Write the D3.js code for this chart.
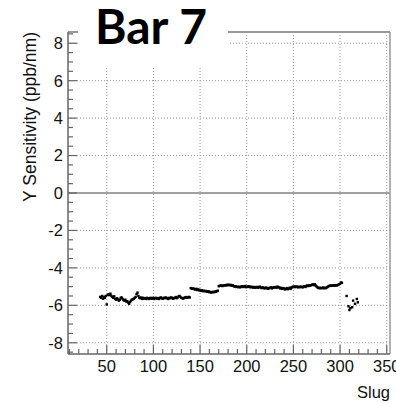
<!DOCTYPE html>
<html>
<head>
<meta charset="utf-8">
<script src="https://cdn.jsdelivr.net/npm/d3@7"></script>
<style>
  body { margin: 0; background: #fff; }
  svg { display: block; }
</style>
</head>
<body>
<div id="chart"></div>
<script>
// Data
const title = "Bar 7";
const xTitle = "Slug";
const yTitle = "Y Sensitivity (ppb/nm)";
const xTicks = [50, 100, 150, 200, 250, 300, 350];
const yTicks = [-8, -6, -4, -2, 0, 2, 4, 6, 8];

// slugs 43..139
const firstSlugA = 43;
const sensA = [
  -5.55,-5.6,-5.5,-5.65,-5.55,-5.6,-5.5,-5.95,-5.45,-5.4,
  -5.45,-5.38,-5.5,-5.55,-5.6,-5.52,-5.65,-5.7,-5.62,-5.68,
  -5.75,-5.7,-5.6,-5.58,-5.66,-5.72,-5.75,-5.7,-5.8,-5.78,
  -5.85,-5.92,-5.82,-5.75,-5.7,-5.68,-5.65,-5.6,-5.55,-5.4,
  -5.32,-5.5,-5.6,-5.62,-5.58,-5.66,-5.6,-5.64,-5.62,-5.66,
  -5.6,-5.63,-5.66,-5.62,-5.6,-5.65,-5.63,-5.6,-5.66,-5.62,
  -5.6,-5.64,-5.62,-5.66,-5.6,-5.58,-5.63,-5.65,-5.6,-5.62,
  -5.58,-5.6,-5.64,-5.66,-5.6,-5.62,-5.58,-5.6,-5.65,-5.62,
  -5.6,-5.56,-5.62,-5.58,-5.52,-5.5,-5.55,-5.6,-5.62,-5.64,
  -5.6,-5.58,-5.56,-5.6,-5.58,-5.55,-5.58
];

// slugs 140..302
const firstSlugB = 140;
const sensB = [
  -5.08,-5.1,-5.12,-5.1,-5.14,-5.16,-5.12,-5.18,-5.15,-5.2,
  -5.18,-5.22,-5.2,-5.24,-5.22,-5.25,-5.23,-5.26,-5.28,-5.25,
  -5.3,-5.28,-5.32,-5.3,-5.28,-5.3,-5.26,-5.28,-5.24,-5.22,
  -4.98,-4.95,-4.96,-4.94,-4.97,-4.95,-4.93,-4.92,-4.94,-4.9,
  -4.92,-4.9,-4.93,-4.91,-4.95,-4.93,-4.97,-5.0,-4.98,-5.02,
  -5.0,-5.03,-5.01,-5.04,-5.0,-4.98,-5.02,-5.0,-4.97,-5.03,
  -5.0,-5.02,-4.98,-5.01,-5.04,-5.0,-5.03,-5.05,-5.02,-5.06,
  -5.04,-5.02,-5.06,-5.03,-5.0,-5.05,-5.08,-5.04,-5.06,-5.1,
  -5.07,-5.05,-5.1,-5.12,-5.08,-5.06,-5.04,-5.1,-5.06,-5.03,
  -5.05,-5.02,-5.06,-5.0,-5.03,-5.05,-5.1,-5.07,-5.12,-5.08,
  -5.1,-5.15,-5.12,-5.08,-5.14,-5.1,-5.06,-5.12,-5.05,-5.02,
  -5.0,-5.03,-4.99,-5.02,-5.0,-5.04,-5.01,-5.03,-5.0,-5.02,
  -5.04,-5.0,-4.98,-5.02,-4.96,-4.94,-4.97,-4.93,-4.95,-4.92,
  -4.9,-4.88,-4.92,-4.87,-4.95,-5.0,-5.05,-5.08,-5.06,-5.09,
  -5.07,-5.08,-5.05,-5.09,-5.06,-5.08,-5.04,-5.0,-4.97,-4.95,
  -4.96,-4.94,-4.95,-4.93,-4.95,-4.92,-4.94,-4.93,-4.9,-4.88,
  -4.85,-4.78,-4.8
];

// the last few scattered slugs
const slugsC = [307, 309, 310, 311, 313, 314, 316, 318, 319];
const sensC = [-5.5, -6.05, -6.25, -6.15, -6.1, -5.75, -5.92, -5.66, -5.84];

const points = []
  .concat(sensA.map((v, i) => ({ slug: firstSlugA + i, v: v })))
  .concat(sensB.map((v, i) => ({ slug: firstSlugB + i, v: v })))
  .concat(sensC.map((v, i) => ({ slug: slugsC[i], v: v })));

const width = 396;
const height = 403;
const plotLeft = 68, plotRight = 390, plotTop = 32, plotBottom = 354;

const svg = d3.select("#chart").append("svg")
  .attr("width", width)
  .attr("height", height);

const x = d3.scaleLinear().domain([8.5, 353.5]).range([plotLeft, plotRight]);
const y = d3.scaleLinear().domain([-8.6, 8.6]).range([plotBottom, plotTop]);

// grid
svg.append("g").selectAll("line")
  .data(xTicks).enter().append("line")
  .attr("x1", d => x(d)).attr("x2", d => x(d))
  .attr("y1", plotTop).attr("y2", plotBottom)
  .attr("stroke", "#999").attr("stroke-width", 1)
  .attr("stroke-dasharray", "1,2");

svg.append("g").selectAll("line")
  .data(yTicks.filter(d => d !== 0)).enter().append("line")
  .attr("x1", plotLeft).attr("x2", plotRight)
  .attr("y1", d => y(d)).attr("y2", d => y(d))
  .attr("stroke", "#999").attr("stroke-width", 1)
  .attr("stroke-dasharray", "1,2");

// zero line
svg.append("line")
  .attr("x1", plotLeft).attr("x2", plotRight)
  .attr("y1", y(0)).attr("y2", y(0))
  .attr("stroke", "#444").attr("stroke-width", 1.2);

// frame (top and right)
svg.append("line")
  .attr("x1", plotLeft).attr("x2", plotRight)
  .attr("y1", plotTop).attr("y2", plotTop)
  .attr("stroke", "#999").attr("stroke-width", 2);
svg.append("line")
  .attr("x1", plotRight).attr("x2", plotRight)
  .attr("y1", plotTop).attr("y2", plotBottom)
  .attr("stroke", "#999").attr("stroke-width", 1.5);

// x axis, ticks point up
const xAxis = svg.append("g").attr("transform", `translate(0,${plotBottom})`);
xAxis.append("line")
  .attr("x1", plotLeft).attr("x2", plotRight)
  .attr("stroke", "#666").attr("stroke-width", 1.5);
xAxis.selectAll("line.tick")
  .data(d3.range(10, 351, 10)).enter().append("line")
  .attr("class", "tick")
  .attr("x1", d => x(d)).attr("x2", d => x(d))
  .attr("y1", 0).attr("y2", d => d % 50 === 0 ? -9 : -5)
  .attr("stroke", "#666").attr("stroke-width", 1.2);
xAxis.selectAll("text")
  .data(xTicks).enter().append("text")
  .attr("x", d => x(d)).attr("y", 18)
  .attr("text-anchor", "middle")
  .attr("font-family", "Liberation Sans, Arial, sans-serif")
  .attr("font-size", 16.5)
  .attr("fill", "#111")
  .text(d => d);

// y axis, ticks point right
const yAxis = svg.append("g").attr("transform", `translate(${plotLeft},0)`);
yAxis.append("line")
  .attr("y1", plotTop).attr("y2", plotBottom)
  .attr("stroke", "#666").attr("stroke-width", 1.5);
yAxis.selectAll("line.tick")
  .data(d3.range(-8.5, 8.51, 0.5)).enter().append("line")
  .attr("class", "tick")
  .attr("y1", d => y(d)).attr("y2", d => y(d))
  .attr("x1", 0).attr("x2", d => Math.abs(d % 2) < 1e-9 ? 9 : 5)
  .attr("stroke", "#666").attr("stroke-width", 1.2);
yAxis.selectAll("text")
  .data(yTicks).enter().append("text")
  .attr("x", -5).attr("y", d => y(d))
  .attr("dy", "0.36em")
  .attr("text-anchor", "end")
  .attr("font-family", "Liberation Sans, Arial, sans-serif")
  .attr("font-size", 16.5)
  .attr("fill", "#111")
  .text(d => d);

// axis titles
svg.append("text")
  .attr("x", plotRight).attr("y", 398)
  .attr("text-anchor", "end")
  .attr("font-family", "Liberation Sans, Arial, sans-serif")
  .attr("font-size", 16.5)
  .attr("fill", "#111")
  .text(xTitle);

svg.append("text")
  .attr("transform", `translate(36,${plotTop}) rotate(-90)`)
  .attr("text-anchor", "end")
  .attr("font-family", "Liberation Sans, Arial, sans-serif")
  .attr("font-size", 17.5)
  .attr("fill", "#111")
  .text(yTitle);

// data points
svg.append("g").selectAll("rect")
  .data(points).enter().append("rect")
  .attr("x", d => x(d.slug) - 1.2)
  .attr("y", d => y(d.v) - 1.2)
  .attr("width", 2.4).attr("height", 2.4)
  .attr("fill", "#000");

// title box on top of the frame
svg.append("rect")
  .attr("x", 78).attr("y", 0)
  .attr("width", 150).attr("height", 67)
  .attr("fill", "#fff");
svg.append("text")
  .attr("x", 95).attr("y", 44)
  .attr("font-family", "Lato, 'Open Sans', sans-serif")
  .attr("font-weight", "bold")
  .attr("font-size", 48)
  .attr("fill", "#000")
  .text(title);
</script>
</body>
</html>
